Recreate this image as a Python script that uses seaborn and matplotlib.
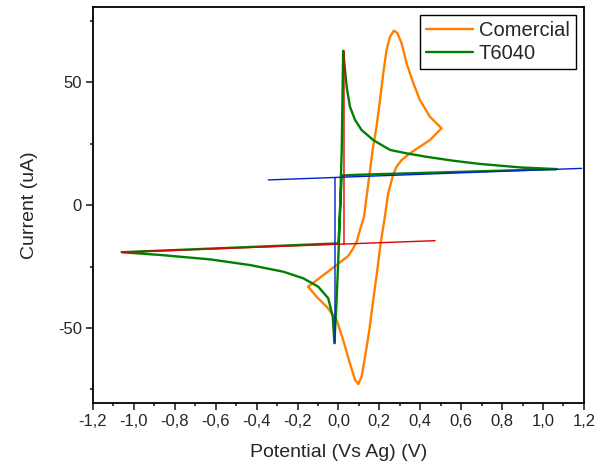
import numpy as np
import pandas as pd
import seaborn as sns
import matplotlib.pyplot as plt
from matplotlib.ticker import MultipleLocator

# Comercial (loop: varredura anodica -> catodica)
com_x = [-0.148, -0.074, -0.009, 0.048, 0.072, 0.089, 0.105, 0.125, 0.146, 0.167, 0.186, 0.203,
         0.219, 0.235, 0.252, 0.271, 0.287, 0.309, 0.333, 0.366, 0.398, 0.447, 0.504,
         0.447, 0.398, 0.349, 0.309, 0.284, 0.268, 0.243, 0.227, 0.206, 0.190, 0.170, 0.151,
         0.130, 0.113, 0.097, 0.081, 0.056, 0.023, -0.009, -0.058, -0.107, -0.148]
com_y = [-33.2, -28.5, -24.4, -20.7, -17.6, -14.9, -10.2, -4.7, 8.8, 22.4, 31.8, 42.7,
         53.5, 63.0, 68.4, 70.9, 70.0, 65.7, 57.6, 49.5, 42.7, 35.9, 31.2,
         26.4, 23.7, 21.0, 18.3, 15.6, 12.5, 4.7, -4.7, -15.6, -26.4, -38.6, -50.8,
         -61.7, -69.8, -72.8, -71.1, -64.4, -54.9, -46.7, -41.3, -37.3, -33.2]

# T6040
t_x = [1.066, 0.097, 0.016, 0.0, -1.06, -0.872, -0.628, -0.433, -0.270, -0.172, -0.099, -0.050,
       -0.028, -0.020, -0.009, -0.001, 0.007, 0.012, 0.016, 0.023, 0.032, 0.040, 0.056, 0.081,
       0.113, 0.170, 0.252, 0.333, 0.431, 0.561, 0.692, 0.887, 1.066]
t_y = [14.6, 12.3, 12.0, -15.6, -19.2, -20.3, -22.1, -24.4, -27.1, -29.8, -33.2, -37.9,
       -45.4, -56.2, -38.6, -22.4, -4.7, 11.5, 22.4, 62.7, 54.9, 48.1, 40.0, 34.6,
       30.5, 26.4, 22.4, 21.0, 19.6, 18.0, 16.7, 15.3, 14.6]

# linhas de base (vermelha: pico anodico, azul: pico catodico)
red_x = [-1.06, 0.472, None, 0.027, 0.027]
red_y = [-19.2, -14.5, None, -15.6, 62.7]
blue_x = [-0.343, 1.189, None, -0.017, -0.017]
blue_y = [10.2, 14.9, None, 10.8, -56.2]

x_ticks = [-1.2, -1.0, -0.8, -0.6, -0.4, -0.2, 0.0, 0.2, 0.4, 0.6, 0.8, 1.0, 1.2]
x_labels = ['-1,2', '-1,0', '-0,8', '-0,6', '-0,4', '-0,2', '0,0', '0,2', '0,4', '0,6', '0,8', '1,0', '1,2']
y_ticks = [-50, 0, 50]
y_labels = ['-50', '0', '50']

sns.set_style('white')
plt.rcParams['font.family'] = ['Liberation Sans', 'DejaVu Sans']
plt.rcParams['axes.unicode_minus'] = False

fig = plt.figure(figsize=(6.07, 4.67), dpi=100)
ax = fig.add_axes([0.1532, 0.137, 0.8088, 0.848])

df_com = pd.DataFrame({'x': com_x, 'y': com_y})
df_t = pd.DataFrame({'x': t_x, 'y': t_y})
sns.lineplot(data=df_com, x='x', y='y', sort=False, estimator=None, color='#FF8000', lw=1.7,
             label='Comercial', ax=ax)
sns.lineplot(data=df_t, x='x', y='y', sort=False, estimator=None, color='#008000', lw=1.7,
             label='T6040', ax=ax)
ax.plot(np.array(red_x, dtype=float), np.array(red_y, dtype=float), color='#E00000', lw=1.0)
ax.plot(np.array(blue_x, dtype=float), np.array(blue_y, dtype=float), color='#0020D0', lw=1.0)

ax.set_xlim(-1.2, 1.2)
ax.set_ylim(-80.5, 80.5)
ax.set_xticks(x_ticks)
ax.set_xticklabels(x_labels)
ax.set_yticks(y_ticks)
ax.set_yticklabels(y_labels)
ax.xaxis.set_minor_locator(MultipleLocator(0.1))
ax.yaxis.set_minor_locator(MultipleLocator(25))
ax.tick_params(which='major', direction='out', length=5, width=1.2, labelsize=12,
               bottom=True, left=True, pad=3)
ax.tick_params(which='minor', direction='out', length=2.5, width=1.2, bottom=True, left=True)
for s in ax.spines.values():
    s.set_color('black')
    s.set_linewidth(1.3)

ax.set_xlabel('Potential (Vs Ag) (V)', fontsize=14, labelpad=11)
ax.set_ylabel('Current (uA)', fontsize=14, labelpad=14)

leg = ax.legend(loc='upper right', fontsize=14.5, handlelength=2.35, fancybox=False,
                edgecolor='black', framealpha=1, borderpad=0.3, labelspacing=0.2,
                handletextpad=0.3, borderaxespad=0.4)
leg.get_frame().set_linewidth(1.0)

plt.savefig('out.png', dpi=100)
plt.close()
